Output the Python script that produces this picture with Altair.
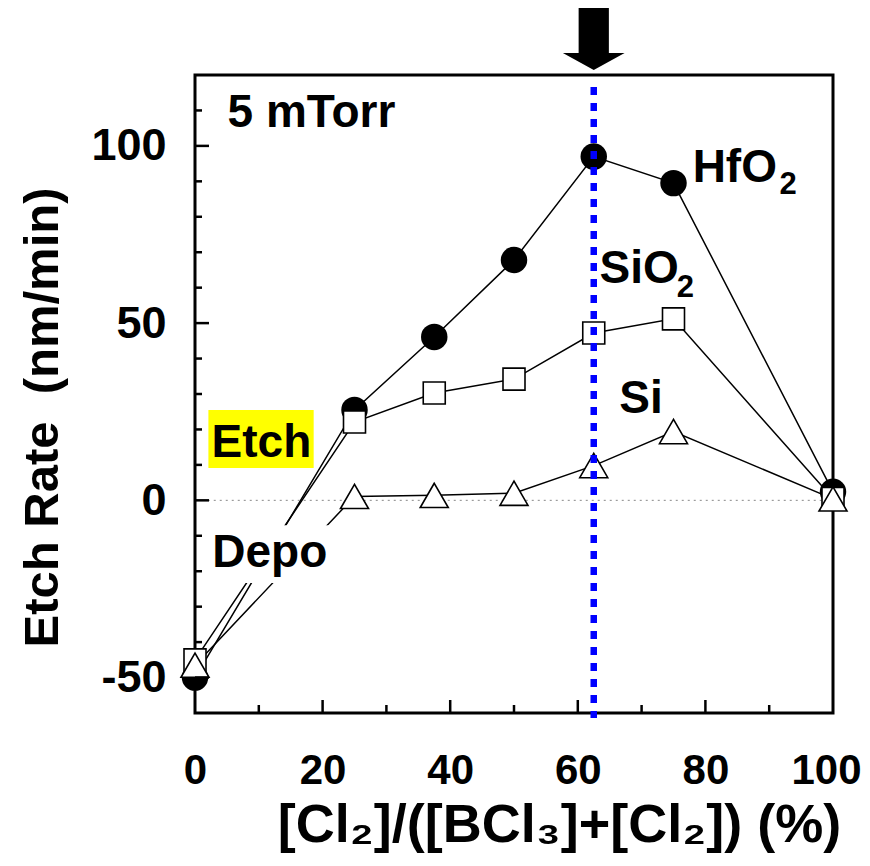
import altair as alt
import pandas as pd

# ---------------- data ----------------
x_ratio = [0, 25, 37.5, 50, 62.5, 75, 100]
hfo2 = [-50.0, 25.5, 46.1, 67.8, 97.0, 89.5, 2.4]
sio2 = [-45.0, 22.1, 30.3, 34.2, 47.2, 51.2, 0.5]
si = [-46.5, 1.1, 1.4, 2.0, 9.8, 19.4, 0.4]

x_ticks = [0, 20, 40, 60, 80, 100]
y_ticks = [-50, 0, 50, 100]
x_major = [20, 40, 60, 80]
x_minor = [10, 30, 50, 70, 90]
y_major = [-50, 0, 50, 100]
y_minor = [-40, -30, -20, -10, 10, 20, 30, 40, 60, 70, 80, 90, 110]

opt_x = [62.5]          # optimum ratio (blue line / arrow)
opt_y_top = [116.6]
opt_y_bot = [-61.4]

zero_x = [2]
zero_x2 = [100]
zero_y = [0]

labels = ["5 mTorr", "HfO", "SiO", "Si", "Etch", "Depo"]
label_x = [5.1, 78.0, 63.4, 66.5, 2.6, 2.7]
label_y = [105.3, 89.8, 61.3, 24.6, 12.2, -18.8]
subs = ["2", "2"]
sub_x = [91.6, 75.5]
sub_y = [86.4, 57.4]

etch_box_x = [2.1]
etch_box_x2 = [18.6]
etch_box_y = [25.5]
etch_box_y2 = [9.1]

gap_x = [7.0]
gap_x2 = [23.4]
gap_y = [-7.0]
gap_y2 = [-23.3]

FONT = "Liberation Sans"
W, H = 638, 638

xs = alt.Scale(domain=[0, 100], nice=False, zero=False)
ys = alt.Scale(domain=[-60, 120], nice=False, zero=False)

series = pd.DataFrame({
    "x": x_ratio * 3,
    "y": hfo2 + sio2 + si,
    "s": ["HfO2"] * 7 + ["SiO2"] * 7 + ["Si"] * 7,
})

X = alt.X("x:Q", scale=xs,
          axis=alt.Axis(values=x_ticks, title="[Cl₂]/([BCl₃]+[Cl₂]) (%)",
                        grid=False, ticks=False, domain=False,
                        labelFont=FONT, labelFontSize=42, labelFontWeight="bold",
                        labelColor="black", labelPadding=37, labelFlush=False,
                        labelOverlap=False, labelBound=False,
                        labelOffset={"condition": {"test": "datum.value == 100",
                                                   "value": -7},
                                     "value": 0},
                        titleFont=FONT, titleFontSize=54, titleFontWeight="bold",
                        titleColor="black", titleX=364, titleY=128,
                        titleBaseline="alphabetic", titleAlign="center"))
Y = alt.Y("y:Q", scale=ys,
          axis=alt.Axis(values=y_ticks, title="Etch Rate\u00a0\u00a0(nm/min)",
                        grid=False, ticks=False, domain=False,
                        labelExpr="'' + datum.value",
                        labelFont=FONT, labelFontSize=45, labelFontWeight="bold",
                        labelColor="black", labelPadding=29, labelFlush=False,
                        labelOverlap=False, labelBound=False,
                        titleFont=FONT, titleFontSize=49, titleFontWeight="bold",
                        titleColor="black", titleX=-138, titleY=342,
                        titleAngle=270, titleBaseline="alphabetic",
                        titleAlign="center"))

lines = alt.Chart(series).mark_line(color="black", strokeWidth=1.5).encode(
    x=X, y=Y, detail="s:N", order="x:Q")

zero = alt.Chart(pd.DataFrame({"x": zero_x, "x2": zero_x2, "y": zero_y})).mark_rule(
    color="#888888", strokeWidth=1, strokeDash=[2, 4]).encode(
    x=alt.X("x:Q", scale=xs), x2="x2:Q", y=alt.Y("y:Q", scale=ys))

def pts(name, shape, size, filled):
    d = series[series.s == name]
    if filled:
        m = alt.Chart(d).mark_point(shape=shape, size=size, filled=True,
                                    color="black", opacity=1)
    else:
        m = alt.Chart(d).mark_point(shape=shape, size=size, filled=True,
                                    fill="white", stroke="black",
                                    strokeWidth=1.6, opacity=1, fillOpacity=1)
    return m.encode(x=alt.X("x:Q", scale=xs), y=alt.Y("y:Q", scale=ys))

p_hf = pts("HfO2", "circle", 700, True)
p_sio = pts("SiO2", "square", 484, False)
p_si = pts("Si", "triangle-up", 784, False)

etch_box = alt.Chart(pd.DataFrame({"x": etch_box_x, "x2": etch_box_x2,
                                   "y": etch_box_y, "y2": etch_box_y2})).mark_rect(
    color="#ffff00").encode(x=alt.X("x:Q", scale=xs), x2="x2:Q",
                            y=alt.Y("y:Q", scale=ys), y2="y2:Q")

gap_box = alt.Chart(pd.DataFrame({"x": gap_x, "x2": gap_x2,
                                  "y": gap_y, "y2": gap_y2})).mark_rect(
    color="white").encode(x=alt.X("x:Q", scale=xs), x2="x2:Q",
                          y=alt.Y("y:Q", scale=ys), y2="y2:Q")

texts = alt.Chart(pd.DataFrame({"t": labels, "x": label_x, "y": label_y})).mark_text(
    align="left", baseline="alphabetic", font=FONT, fontSize=46,
    fontWeight="bold", color="black").encode(
    x=alt.X("x:Q", scale=xs), y=alt.Y("y:Q", scale=ys), text="t:N")

sub_texts = alt.Chart(pd.DataFrame({"t": subs, "x": sub_x, "y": sub_y})).mark_text(
    align="left", baseline="alphabetic", font=FONT, fontSize=31,
    fontWeight="bold", color="black").encode(
    x=alt.X("x:Q", scale=xs), y=alt.Y("y:Q", scale=ys), text="t:N")

vline = alt.Chart(pd.DataFrame({"x": opt_x, "y": opt_y_top, "y2": opt_y_bot})).mark_rule(
    color="#0000ff", strokeWidth=6.5, strokeDash=[8, 8]).encode(
    x=alt.X("x:Q", scale=xs), y=alt.Y("y:Q", scale=ys), y2="y2:Q")

ARROW = "M-0.48,-1L0.48,-1L0.48,0.46L0.98,0.46L0,1L-0.98,0.46L-0.48,0.46Z"
arrow = alt.Chart(pd.DataFrame({"x": opt_x})).mark_point(
    shape=ARROW, size=3969, filled=True, color="black", opacity=1).encode(
    x=alt.X("x:Q", scale=xs), y=alt.value(-36.5))

# inward ticks
xt_major = alt.Chart(pd.DataFrame({"x": x_major})).mark_rule(
    color="black", strokeWidth=2.5).encode(
    x=alt.X("x:Q", scale=xs), y=alt.value(H), y2=alt.value(H - 13))
xt_minor = alt.Chart(pd.DataFrame({"x": x_minor})).mark_rule(
    color="black", strokeWidth=2.5).encode(
    x=alt.X("x:Q", scale=xs), y=alt.value(H), y2=alt.value(H - 8))
yt_major = alt.Chart(pd.DataFrame({"y": y_major})).mark_rule(
    color="black", strokeWidth=2.5).encode(
    y=alt.Y("y:Q", scale=ys), x=alt.value(0), x2=alt.value(14))
yt_minor = alt.Chart(pd.DataFrame({"y": y_minor})).mark_rule(
    color="black", strokeWidth=2.5).encode(
    y=alt.Y("y:Q", scale=ys), x=alt.value(0), x2=alt.value(7))

chart = alt.layer(
    lines, zero, etch_box, gap_box, p_hf, p_sio, p_si, texts, sub_texts,
    vline, arrow, xt_major, xt_minor, yt_major, yt_minor
).properties(
    width=W, height=H,
    autosize=alt.AutoSizeParams(type="none"),
    padding={"left": 187, "top": 67, "right": 29, "bottom": 145},
).configure_view(stroke="black", strokeWidth=3)

chart.save("out.html", embed_options={"renderer": "svg", "actions": False})
